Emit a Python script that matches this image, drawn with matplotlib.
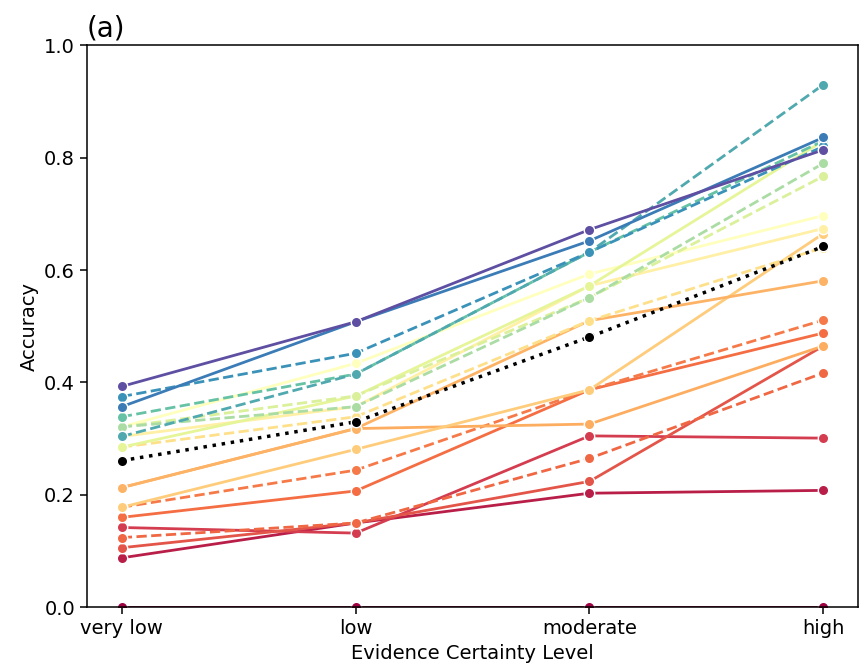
import numpy as np
import matplotlib.pyplot as plt

levels = ["very low", "low", "moderate", "high"]

# accuracy per model at each certainty level, plus colour position and line style
model_acc = [
    [0.000, 0.000, 0.000, 0.000],
    [0.088, 0.150, 0.203, 0.208],
    [0.142, 0.132, 0.305, 0.301],
    [0.106, 0.150, 0.224, 0.465],
    [0.124, 0.150, 0.265, 0.417],
    [0.160, 0.207, 0.387, 0.488],
    [0.178, 0.244, 0.387, 0.511],
    [0.213, 0.318, 0.326, 0.465],
    [0.178, 0.281, 0.387, 0.665],
    [0.213, 0.318, 0.510, 0.581],
    [0.285, 0.339, 0.510, 0.640],
    [0.304, 0.357, 0.572, 0.674],
    [0.321, 0.434, 0.593, 0.697],
    [0.285, 0.376, 0.572, 0.830],
    [0.321, 0.376, 0.551, 0.767],
    [0.321, 0.357, 0.551, 0.790],
    [0.339, 0.415, 0.632, 0.830],
    [0.304, 0.415, 0.632, 0.930],
    [0.375, 0.452, 0.632, 0.820],
    [0.357, 0.508, 0.652, 0.836],
    [0.393, 0.508, 0.672, 0.814],
]
color_pos = [0.0, 0.05, 0.1, 0.15, 0.19, 0.2, 0.22, 0.3, 0.36, 0.31, 0.4,
             0.45, 0.5, 0.6, 0.62, 0.7, 0.8, 0.84, 0.88, 0.92, 1.0]
dashed = [False, False, False, False, True, False, True, False, False, False, True,
          False, False, False, True, True, True, True, True, False, False]

mean_acc = [0.261, 0.330, 0.481, 0.642]

plt.rcParams.update({
    'font.size': 14,
    'axes.linewidth': 1.1,
    'xtick.major.size': 4.9,
    'ytick.major.size': 4.9,
    'xtick.major.width': 1.1,
    'ytick.major.width': 1.1,
})

fig, ax = plt.subplots(figsize=(8.61, 6.7), dpi=100)
fig.subplots_adjust(left=0.1007, right=0.997, bottom=0.0936, top=0.9324)

x = np.arange(len(levels))
cmap = plt.cm.Spectral
for acc, c, d in zip(model_acc, color_pos, dashed):
    ax.plot(x, acc, color=cmap(c), linestyle='--' if d else '-', linewidth=2.0,
            marker='o', markersize=7.5, markeredgecolor='white', markeredgewidth=1.0)

ax.plot(x, mean_acc, color='black', linestyle=':', linewidth=2.5,
        marker='o', markersize=7.5, markeredgecolor='white', markeredgewidth=1.0)

ax.set_ylim(0, 1.0)
ax.set_xticks(x)
ax.set_xticklabels(levels)
ax.set_xlabel("Evidence Certainty Level")
ax.set_ylabel("Accuracy")
ax.set_title("(a)", loc='left', fontsize=20, pad=6)

fig.savefig("out.png")
